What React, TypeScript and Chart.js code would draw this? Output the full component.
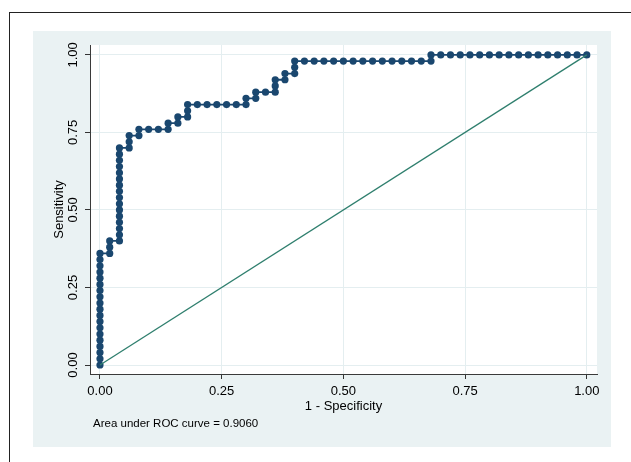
import React, { useEffect, useRef } from "react";
import { Chart, registerables } from "chart.js";

Chart.register(...registerables);

// ROC curve points (1 - specificity, sensitivity)
const fprValues = [
  0, 0, 0, 0, 0, 0, 0, 0, 0, 0, 0, 0, 0, 0, 0, 0, 0, 0, 0,
  0.02, 0.02, 0.02,
  0.04, 0.04, 0.04, 0.04, 0.04, 0.04, 0.04, 0.04, 0.04, 0.04, 0.04, 0.04, 0.04, 0.04, 0.04, 0.04,
  0.06, 0.06, 0.06,
  0.08, 0.08,
  0.1,
  0.12,
  0.14, 0.14,
  0.16, 0.16,
  0.18, 0.18, 0.18,
  0.2, 0.22, 0.24, 0.26, 0.28,
  0.3, 0.3,
  0.32, 0.32,
  0.34,
  0.36, 0.36, 0.36,
  0.38, 0.38,
  0.4, 0.4, 0.4,
  0.42, 0.44, 0.46, 0.48, 0.5, 0.52, 0.54, 0.56, 0.58, 0.6, 0.62, 0.64, 0.66, 0.68,
  0.68,
  0.7, 0.72, 0.74, 0.76, 0.78, 0.8, 0.82, 0.84, 0.86, 0.88, 0.9, 0.92, 0.94, 0.96, 0.98, 1.0,
];

const tprValues = [
  0, 0.02, 0.04, 0.06, 0.08, 0.1, 0.12, 0.14, 0.16, 0.18, 0.2, 0.22, 0.24, 0.26, 0.28, 0.3, 0.32, 0.34, 0.36,
  0.36, 0.38, 0.4,
  0.4, 0.42, 0.44, 0.46, 0.48, 0.5, 0.52, 0.54, 0.56, 0.58, 0.6, 0.62, 0.64, 0.66, 0.68, 0.7,
  0.7, 0.72, 0.74,
  0.74, 0.76,
  0.76,
  0.76,
  0.76, 0.78,
  0.78, 0.8,
  0.8, 0.82, 0.84,
  0.84, 0.84, 0.84, 0.84, 0.84,
  0.84, 0.86,
  0.86, 0.88,
  0.88,
  0.88, 0.9, 0.92,
  0.92, 0.94,
  0.94, 0.96, 0.98,
  0.98, 0.98, 0.98, 0.98, 0.98, 0.98, 0.98, 0.98, 0.98, 0.98, 0.98, 0.98, 0.98, 0.98,
  1.0,
  1.0, 1.0, 1.0, 1.0, 1.0, 1.0, 1.0, 1.0, 1.0, 1.0, 1.0, 1.0, 1.0, 1.0, 1.0, 1.0,
];

// Reference (chance) line
const referenceX = [0, 1];
const referenceY = [0, 1];

const tickValues = [0, 0.25, 0.5, 0.75, 1];
const xAxisTitle = "1 - Specificity";
const yAxisTitle = "Sensitivity";
const noteText = "Area under ROC curve = 0.9060";

const FONT = "'Liberation Sans', Arial, Helvetica, sans-serif";

export default function App() {
  const ref = useRef<HTMLCanvasElement>(null);

  useEffect(() => {
    const canvas = ref.current;
    if (!canvas) return;

    const stataPlugin = {
      id: "stataBackground",
      beforeDraw(chart: any) {
        const { ctx, chartArea } = chart;
        ctx.save();
        ctx.fillStyle = "#ffffff";
        ctx.fillRect(0, 0, chart.width, chart.height);
        // outer frame (partially visible)
        ctx.fillStyle = "#222222";
        ctx.fillRect(9, 12, 1, chart.height);
        ctx.fillRect(9, 12, chart.width, 1);
        // graph region background
        ctx.fillStyle = "#eaf2f3";
        ctx.fillRect(33, 31, 578, 416);
        // plot region
        ctx.fillStyle = "#ffffff";
        ctx.fillRect(
          chartArea.left,
          chartArea.top,
          chartArea.right - chartArea.left,
          chartArea.bottom - chartArea.top
        );
        ctx.restore();
      },
      afterDraw(chart: any) {
        const { ctx } = chart;
        ctx.save();
        ctx.font = `11.5px ${FONT}`;
        ctx.fillStyle = "#000000";
        ctx.textAlign = "left";
        ctx.textBaseline = "middle";
        ctx.fillText(noteText, 93, 424);
        ctx.restore();
      },
    };

    const rocData = fprValues.map((x, i) => ({ x, y: tprValues[i] }));
    const refData = referenceX.map((x, i) => ({ x, y: referenceY[i] }));

    const chart = new Chart(canvas, {
      type: "scatter",
      data: {
        datasets: [
          {
            label: "Reference",
            data: refData,
            showLine: true,
            borderColor: "#2f7f6e",
            borderWidth: 1.3,
            pointRadius: 0,
            pointHoverRadius: 0,
          },
          {
            label: "ROC",
            data: rocData,
            showLine: true,
            borderColor: "#1a476f",
            borderWidth: 1.8,
            backgroundColor: "#1a476f",
            pointBackgroundColor: "#1a476f",
            pointBorderWidth: 0,
            pointRadius: 3.6,
            pointHoverRadius: 3.6,
          },
        ],
      },
      options: {
        responsive: false,
        animation: false,
        events: [],
        font: { family: FONT },
        layout: { padding: { left: 33, top: 45, right: 34, bottom: 48 } },
        plugins: {
          legend: { display: false },
          tooltip: { enabled: false },
        },
        scales: {
          x: {
            type: "linear",
            min: -0.0205,
            max: 1.021,
            afterBuildTicks: (s: any) => {
              s.ticks = tickValues.map((v) => ({ value: v }));
            },
            afterFit: (s: any) => {
              s.height = 40;
              s.paddingLeft = 0;
              s.paddingRight = 0;
            },
            grid: {
              color: "#e4eef0",
              lineWidth: 1,
              tickColor: "#333333",
              tickLength: 5,
              tickWidth: 1,
            },
            border: { color: "#3a3a3a", width: 1 },
            ticks: {
              padding: 5,
              color: "#000000",
              font: { family: FONT, size: 13 },
              maxRotation: 0,
              minRotation: 0,
              autoSkip: false,
              callback: (v: any) => Number(v).toFixed(2),
            },
            title: {
              display: true,
              text: xAxisTitle,
              color: "#000000",
              font: { family: FONT, size: 13 },
              padding: { top: 0, bottom: 0 },
            },
          },
          y: {
            type: "linear",
            min: -0.029,
            max: 1.032,
            afterBuildTicks: (s: any) => {
              s.ticks = tickValues.map((v) => ({ value: v }));
            },
            afterFit: (s: any) => {
              s.width = 57;
              s.paddingTop = 0;
              s.paddingBottom = 0;
            },
            grid: {
              color: "#e4eef0",
              lineWidth: 1,
              tickColor: "#333333",
              tickLength: 5,
              tickWidth: 1,
            },
            border: { color: "#3a3a3a", width: 1 },
            ticks: {
              padding: -1,
              color: "#000000",
              font: { family: FONT, size: 13 },
              minRotation: 90,
              maxRotation: 90,
              crossAlign: "center",
              autoSkip: false,
              callback: (v: any) => Number(v).toFixed(2),
            },
            title: {
              display: true,
              text: yAxisTitle,
              color: "#000000",
              font: { family: FONT, size: 13 },
              padding: { top: 19, bottom: 0 },
            },
          },
        },
      },
      plugins: [stataPlugin],
    } as any);

    return () => {
      chart.destroy();
    };
  }, []);

  return (
    <div
      style={{
        position: "fixed",
        left: 0,
        top: 0,
        width: 631,
        height: 462,
        overflow: "hidden",
        background: "#ffffff",
      }}
    >
      <canvas
        ref={ref}
        width={631}
        height={462}
        style={{ display: "block", width: 631, height: 462 }}
      />
    </div>
  );
}
